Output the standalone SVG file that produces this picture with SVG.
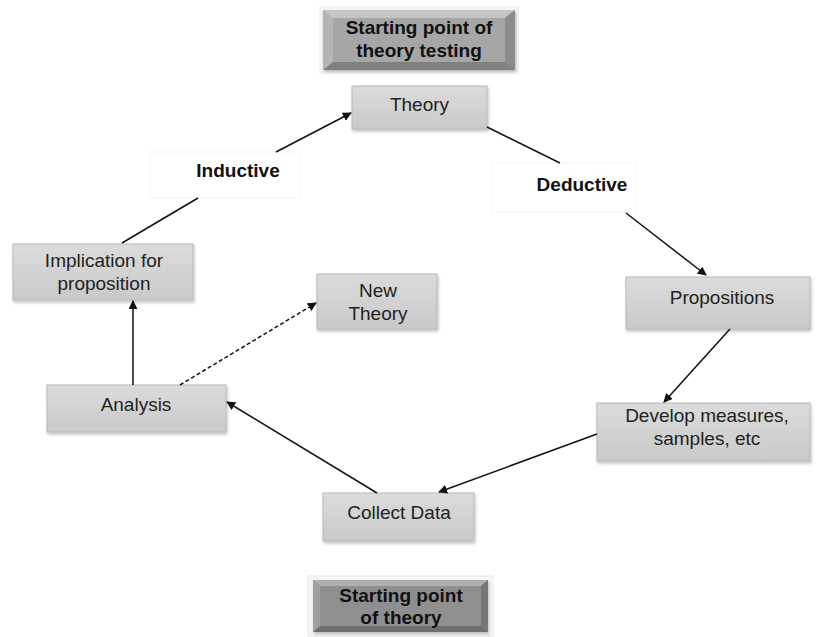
<svg xmlns="http://www.w3.org/2000/svg" width="818" height="637" viewBox="0 0 818 637">
<defs>
<linearGradient id="g" x1="0" y1="0" x2="0" y2="1">
<stop offset="0" stop-color="#dcdcdc"/><stop offset="1" stop-color="#c9c9c9"/>
</linearGradient>
<filter id="sh" x="-10%" y="-10%" width="130%" height="140%">
<feDropShadow dx="1" dy="2" stdDeviation="1.5" flood-color="#000" flood-opacity="0.25"/>
</filter>
<marker id="ah" viewBox="0 0 10 10" refX="9" refY="5" markerWidth="9" markerHeight="9" orient="auto" markerUnits="userSpaceOnUse">
<path d="M0,0 L10,5 L0,10 z" fill="#111"/>
</marker>
</defs>
<style>
.n{fill:url(#g);stroke:#b8b8b8;stroke-width:1;filter:url(#sh)}
.t{font-family:"Liberation Sans",Arial,sans-serif;font-size:19px;fill:#222;text-anchor:middle}
.b{font-family:"Liberation Sans",Arial,sans-serif;font-size:19px;font-weight:bold;fill:#111;text-anchor:middle}
.c{stroke:#111;stroke-width:1.5;fill:none}
.lab{fill:#fff;stroke:#f4f4f4;stroke-width:1}
</style>
<rect width="818" height="637" fill="#fff"/>

<g id="start-testing">
<rect x="319" y="6" width="200" height="68" fill="#f4f4f4"/>
<rect x="323" y="10" width="192" height="60" fill="#a6a6a6" filter="url(#sh)"/>
<polygon points="323,10 515,10 505,18 333,18" fill="#c6c6c6"/>
<polygon points="323,10 333,18 333,62 323,70" fill="#b5b5b5"/>
<polygon points="515,10 505,18 505,62 515,70" fill="#8c8c8c"/>
<polygon points="323,70 333,62 505,62 515,70" fill="#808080"/>
<text class="b" x="419" y="34">Starting point of</text>
<text class="b" x="419" y="57">theory testing</text>
</g>

<g id="theory"><rect class="n" x="352" y="86" width="135" height="43"/><text class="t" x="419.5" y="111">Theory</text></g>

<g id="inductive"><rect class="lab" x="150" y="152" width="150" height="46"/><text class="b" x="238" y="177">Inductive</text></g>
<g id="deductive"><rect class="lab" x="492" y="163" width="144" height="49"/><text class="b" x="582" y="191">Deductive</text></g>

<g id="implication"><rect class="n" x="13" y="244" width="180" height="56"/><text class="t" x="104" y="267">Implication for</text><text class="t" x="104" y="290">proposition</text></g>

<g id="new-theory"><rect class="n" x="317" y="274" width="120" height="55"/><text class="t" x="378" y="297">New</text><text class="t" x="378" y="320">Theory</text></g>

<g id="propositions"><rect class="n" x="626" y="277" width="184" height="52"/><text class="t" x="722" y="304">Propositions</text></g>

<g id="develop"><rect class="n" x="597" y="403" width="213" height="58"/><text class="t" x="707" y="422">Develop measures,</text><text class="t" x="707" y="445">samples, etc</text></g>

<g id="analysis"><rect class="n" x="47" y="385" width="179" height="47"/><text class="t" x="136" y="411">Analysis</text></g>

<g id="collect"><rect class="n" x="323" y="493" width="151" height="48"/><text class="t" x="399" y="519">Collect Data</text></g>

<g id="start-theory">
<rect x="308" y="576" width="185" height="60" fill="#f6f6f6" stroke="#e6e6e6"/>
<rect x="313" y="580" width="175" height="52" fill="#8f8f8f" filter="url(#sh)"/>
<polygon points="313,580 488,580 481,586 320,586" fill="#b0b0b0"/>
<polygon points="313,580 320,586 320,626 313,632" fill="#a0a0a0"/>
<polygon points="488,580 481,586 481,626 488,632" fill="#777"/>
<polygon points="313,632 320,626 481,626 488,632" fill="#6e6e6e"/>
<text class="b" x="401" y="602">Starting point</text>
<text class="b" x="401" y="624">of theory</text>
</g>

<g id="connectors">
<line class="c" x1="122" y1="243" x2="198" y2="198"/>
<line class="c" x1="276" y1="152" x2="351" y2="113" marker-end="url(#ah)"/>
<line class="c" x1="487" y1="127" x2="560" y2="163"/>
<line class="c" x1="626" y1="213" x2="706" y2="275" marker-end="url(#ah)"/>
<line class="c" x1="730" y1="329" x2="664" y2="402" marker-end="url(#ah)"/>
<line class="c" x1="597" y1="434" x2="439" y2="492" marker-end="url(#ah)"/>
<line class="c" x1="377" y1="493" x2="227" y2="402" marker-end="url(#ah)"/>
<line class="c" x1="133" y1="385" x2="133" y2="301" marker-end="url(#ah)"/>
<line class="c" x1="180" y1="385" x2="316" y2="303" stroke-dasharray="4,2.5" marker-end="url(#ah)"/>
</g>
</svg>
